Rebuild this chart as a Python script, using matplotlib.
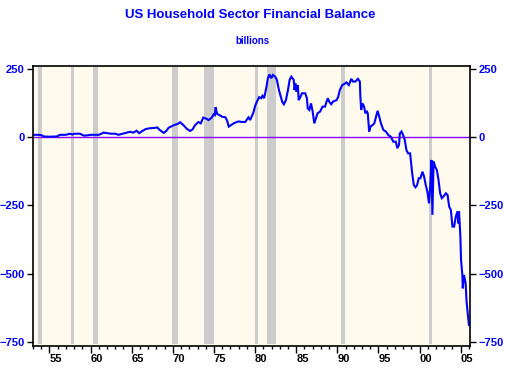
import matplotlib.pyplot as plt
from matplotlib.ticker import MultipleLocator, FixedLocator

# values (billions of dollars)
years = [
    1953.1, 1953.6, 1954.0, 1954.3, 1955.0, 1955.9, 1956.3, 1957.0, 1957.5, 1957.8,
    1958.0, 1958.7, 1959.2, 1959.6, 1960.0, 1961.0, 1961.6, 1962.0, 1962.5, 1963.0,
    1963.4, 1964.0, 1964.4, 1964.8, 1965.2, 1965.6, 1965.9, 1966.3, 1966.7, 1967.2,
    1967.7, 1968.1, 1968.4, 1968.9, 1969.2, 1969.5, 1970.1, 1970.6, 1970.9, 1971.3,
    1971.7, 1972.1, 1972.4, 1972.7, 1973.1, 1973.4, 1973.7, 1974.0, 1974.35, 1974.7,
    1974.96, 1975.1, 1975.2, 1975.3, 1975.4, 1975.7, 1976.0, 1976.4, 1976.6, 1976.8,
    1977.1, 1977.4, 1977.7, 1978.0, 1978.4, 1978.8, 1979.2, 1979.4, 1979.8, 1980.02,
    1980.2, 1980.5, 1980.75, 1980.9, 1981.1, 1981.35, 1981.56, 1981.76, 1981.96, 1982.17,
    1982.45, 1982.65, 1982.9, 1983.3, 1983.5, 1983.75, 1984.0, 1984.2, 1984.4, 1984.7,
    1984.8, 1984.9, 1985.0, 1985.2, 1985.3, 1985.5, 1985.7, 1986.1, 1986.3, 1986.4,
    1986.6, 1986.8, 1987.0, 1987.2, 1987.4, 1987.6, 1987.9, 1988.2, 1988.5, 1988.7,
    1988.85, 1989.0, 1989.25, 1989.5, 1989.9, 1990.1, 1990.3, 1990.6, 1990.95, 1991.1,
    1991.4, 1991.7, 1991.9, 1992.2, 1992.5, 1992.74, 1992.8, 1992.9, 1993.06, 1993.26,
    1993.4, 1993.6, 1993.7, 1993.87, 1994.03, 1994.3, 1994.5, 1994.7, 1994.9, 1995.1,
    1995.3, 1995.6, 1995.9, 1996.2, 1996.5, 1996.8, 1997.1, 1997.3, 1997.5, 1997.6,
    1997.8, 1998.0, 1998.2, 1998.4, 1998.6, 1998.85, 1998.97, 1999.1, 1999.3, 1999.5,
    1999.7, 1999.9, 2000.1, 2000.35, 2000.55, 2000.75, 2000.95, 2001.15, 2001.3, 2001.44,
    2001.56, 2001.7, 2001.9, 2002.1, 2002.3, 2002.5, 2002.7, 2002.9, 2003.2, 2003.4,
    2003.6, 2003.8, 2004.0, 2004.2, 2004.4, 2004.6, 2004.7, 2004.8, 2004.96, 2005.04,
    2005.2, 2005.25, 2005.4, 2005.6, 2005.7, 2005.85, 2006.0,
]
balance = [
    8, 8, 7, 2, 1, 2, 8, 8, 12, 9,
    12, 12, 5, 6, 8, 8, 16, 14, 12, 12,
    8, 13, 16, 19, 16, 23, 14, 22, 29, 32,
    33, 35, 26, 15, 22, 34, 43, 48, 54, 43,
    30, 22, 28, 43, 55, 50, 71, 68, 62, 70,
    83, 80, 109, 95, 84, 80, 74, 72, 60, 38,
    44, 50, 54, 57, 55, 55, 72, 62, 90, 115,
    128, 146, 142, 151, 142, 178, 215, 229, 215, 227,
    221, 209, 172, 129, 120, 135, 172, 209, 221, 209,
    172, 196, 166, 190, 135, 146, 160, 160, 142, 105,
    99, 123, 93, 50, 68, 87, 93, 111, 111, 130,
    142, 130, 120, 130, 135, 146, 172, 190, 196, 200,
    190, 213, 203, 203, 213, 203, 148, 99, 123, 111,
    87, 93, 87, 20, 38, 44, 50, 74, 96, 74,
    50, 26, 20, 7, 1, -17, -17, -41, -29, 13,
    20, 7, -11, -48, -60, -60, -96, -133, -176, -184,
    -176, -151, -151, -127, -145, -176, -200, -243, -176, -84,
    -285, -90, -109, -121, -157, -206, -224, -218, -206, -212,
    -255, -267, -328, -328, -292, -273, -316, -273, -365, -450,
    -505, -554, -505, -535, -597, -645, -688,
]

# recession bands (start, end)
rec_start = [1953.55, 1957.6, 1960.3, 1969.9, 1973.8, 1980.02, 1981.5, 1990.5, 2001.16]
rec_end   = [1954.15, 1958.0, 1960.9, 1970.6, 1974.95, 1980.35, 1982.5, 1990.95, 2001.52]

tick_years  = [1955, 1960, 1965, 1970, 1975, 1980, 1985, 1990, 1995, 2000, 2005]
tick_labels = ['55', '60', '65', '70', '75', '80', '85', '90', '95', '00', '05']
y_ticks = [250, 0, -250, -500, -750]

plt.rcParams['font.family'] = ['Liberation Sans', 'DejaVu Sans']
plt.rcParams['font.weight'] = 'bold'

fig = plt.figure(figsize=(5.06, 3.69), dpi=100)
ax = fig.add_axes([33/506, 1 - 345.7/369, (470 - 33)/506, (345.7 - 65.7)/369])
ax.set_facecolor('#fffaee')

for s, e in zip(rec_start, rec_end):
    ax.axvspan(s, e, ymin=0.006, ymax=0.995, color='#cccccc', lw=0)

ax.axhline(0, color='#8800ff', lw=1)
ax.plot(years, balance, color='#0000ff', lw=1.5, solid_joinstyle='miter')

ax.set_xlim(1953.0, 2006.13)
ax.set_ylim(-764, 261)

ax.xaxis.set_major_locator(FixedLocator(tick_years))
ax.xaxis.set_minor_locator(MultipleLocator(1))
ax.set_xticklabels(tick_labels, ha='left')
ax.tick_params(axis='x', which='major', length=5, width=1, pad=1,
               labelsize=8, labelcolor='black')
ax.tick_params(axis='x', which='minor', length=2, width=1)

ax.set_yticks(y_ticks)
ax.tick_params(axis='y', which='both', left=True, right=True,
               labelleft=True, labelright=True, length=4, width=1,
               pad=2, labelsize=8, labelcolor='#0000ff')
for lab in ax.get_xticklabels():
    lab.set_fontweight('bold')
for lab in ax.get_yticklabels():
    lab.set_fontweight('bold')

for sp in ax.spines.values():
    sp.set_color('black')
    sp.set_linewidth(1.2)

fig.text(0.495, 1 - 14.5/369, 'US Household Sector Financial Balance',
         ha='center', va='center', color='#0000ff', fontsize=9.5, fontweight='bold')
fig.text(0.498, 1 - 41.5/369, 'billions', ha='center', va='center',
         color='#0000ff', fontsize=7, fontweight='bold')

fig.savefig('out.png', dpi=100)
